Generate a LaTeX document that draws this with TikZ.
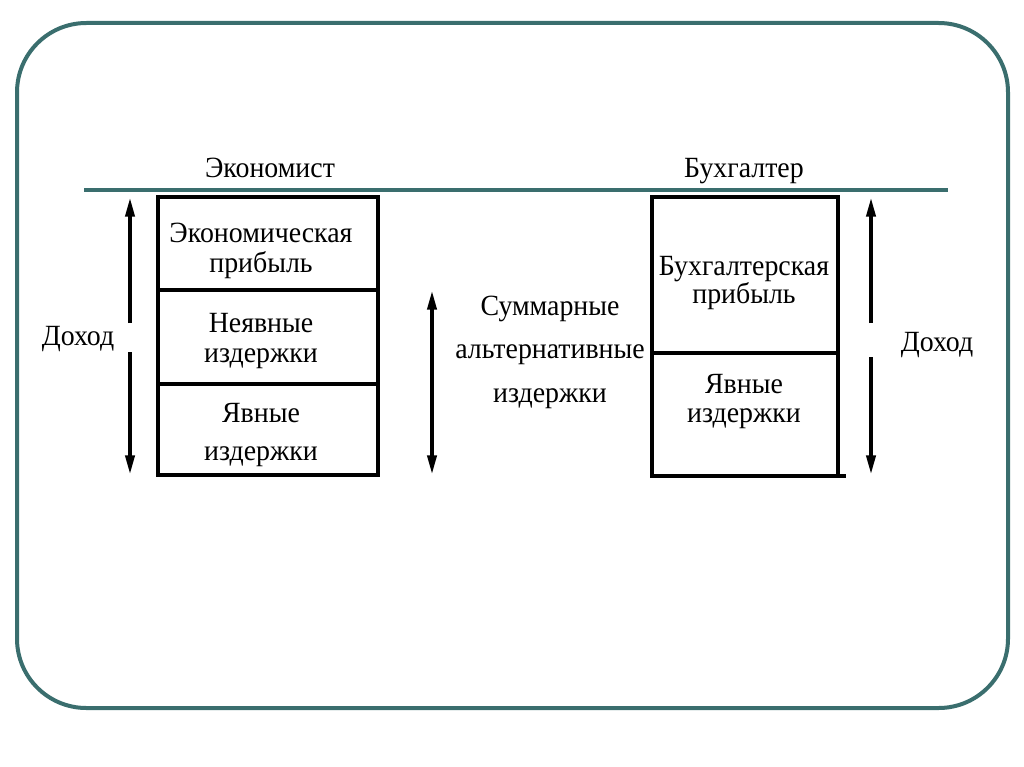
\documentclass[tikz,border=0pt]{standalone}
\usepackage{fontspec}
\setmainfont{Liberation Serif}[FakeStretch=0.95]
\usetikzlibrary{arrows.meta}
\begin{document}
\begin{tikzpicture}[x=0.75pt,y=-0.75pt,
  frame/.style={draw={rgb,255:red,58;green,110;blue,110},line width=3pt},
  cell/.style={draw=black,line width=2.6pt,minimum width=#1,inner sep=0pt},
  lbl/.style={inner sep=0pt,align=center,anchor=base,
    font=\fontsize{22}{#1}\selectfont},
  lbl/.default=22.5pt,
  arr/.style={line width=2.3pt,-{Triangle[length=14pt,width=7pt]}}]
\useasboundingbox (0,0) rectangle (1024,767);
\draw[frame,rounded corners=52pt] (17,23) rectangle (1008,708);
\draw[frame] (84,190) -- (948,190);
% titles
\node[lbl] (econ) at (270,177) {Экономист};
\node[lbl] (buh) at (744,177) {Бухгалтер};
% left column cells
\node[cell=165pt,minimum height=69.75pt] (ep) at (268,243.5) {};
\node[cell=165pt,minimum height=70.5pt] (ni) at (268,337) {};
\node[cell=165pt,minimum height=68.25pt] (yi) at (268,429.5) {};
\node[lbl=22.5pt] (tep) at (261,272) {Экономическая\\прибыль};
\node[lbl=22.5pt] (tni) at (261,362) {Неявные\\издержки};
\node[lbl=28.5pt] (tyi) at (261,460) {Явные\\издержки};
% right column cells
\node[cell=139.5pt,minimum height=117pt] (bp) at (745,275) {};
\node[cell=139.5pt,minimum height=92.25pt] (yi2) at (745,414.5) {};
\node[lbl=21pt] (tbp) at (744,303) {Бухгалтерская\\прибыль};
\node[lbl=21.75pt] (tyi2) at (744,422) {Явные\\издержки};
\coordinate (bx1) at (838,476);
\coordinate (bx2) at (846,476);
\draw[line width=2.6pt] (bx1) -- (bx2);
% left income arrow
\node[lbl] (dl) at (78,345) {Доход};
\coordinate (la1) at (130,198);
\coordinate (la2) at (130,474);
\coordinate (lg1) at (130,323);
\coordinate (lg2) at (130,352);
\draw[arr] (lg1) -- (la1);
\draw[arr] (lg2) -- (la2);
% middle arrow
\node[lbl=32.5pt] (sum) at (550,402) {Суммарные\\альтернативные\\издержки};
\coordinate (ma1) at (432,291);
\coordinate (ma2) at (432,474);
\draw[line width=2.3pt,{Triangle[length=14pt,width=7pt]}-{Triangle[length=14pt,width=7pt]}] (ma1) -- (ma2);
% right income arrow
\node[lbl] (dr) at (937,351) {Доход};
\coordinate (ra1) at (871,198);
\coordinate (ra2) at (871,474);
\coordinate (rg1) at (871,323);
\coordinate (rg2) at (871,357);
\draw[arr] (rg1) -- (ra1);
\draw[arr] (rg2) -- (ra2);
\end{tikzpicture}
\end{document}
